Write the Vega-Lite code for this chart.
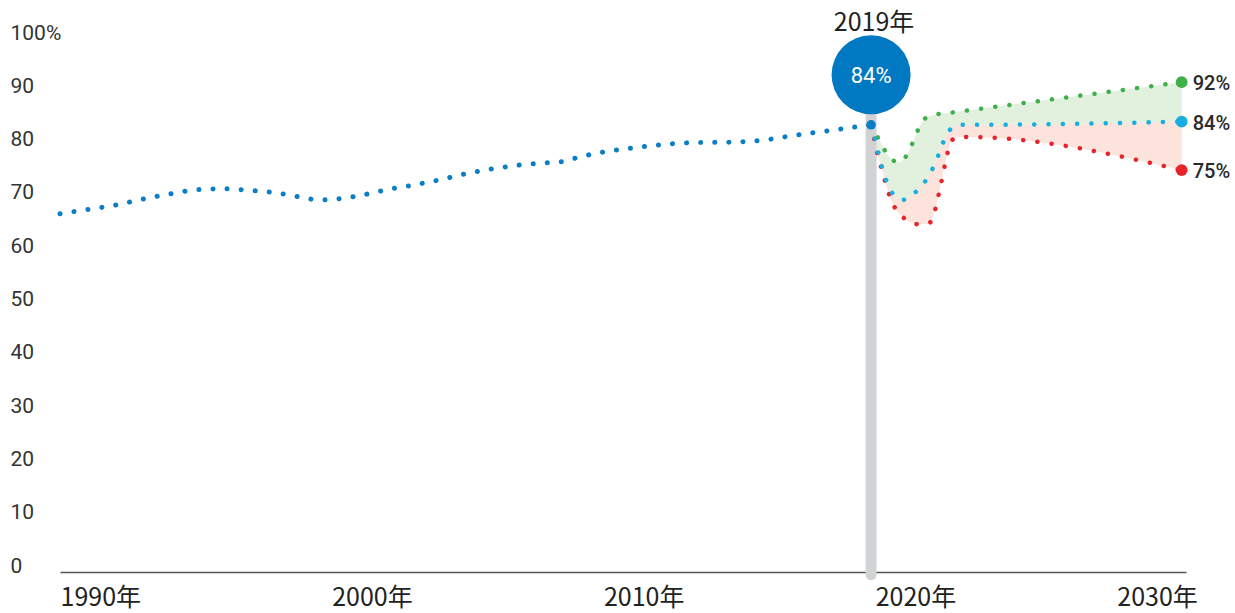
{
  "$schema": "https://vega.github.io/schema/vega-lite/v6.json",
  "width": 1126,
  "height": 533,
  "autosize": {"type": "none"},
  "padding": {"left": 60, "top": 39, "right": 49, "bottom": 41},
  "background": "white",
  "config": {"view": {"stroke": null}, "axis": {"grid": false}},
  "datasets": {
    "history": [
      {"year": 1990, "value": 67.2}, {"year": 1991, "value": 68.0}, {"year": 1992, "value": 68.8},
      {"year": 1993, "value": 69.9}, {"year": 1994, "value": 70.9}, {"year": 1995, "value": 71.7},
      {"year": 1996, "value": 71.9}, {"year": 1997, "value": 71.6}, {"year": 1998, "value": 71.1},
      {"year": 1999, "value": 70.2}, {"year": 1999.5, "value": 69.8}, {"year": 2000, "value": 69.9},
      {"year": 2001, "value": 70.6}, {"year": 2002, "value": 71.7}, {"year": 2003, "value": 72.6},
      {"year": 2004, "value": 73.6}, {"year": 2005, "value": 74.8}, {"year": 2006, "value": 75.7},
      {"year": 2007, "value": 76.4}, {"year": 2008, "value": 76.8}, {"year": 2008.6, "value": 77.1},
      {"year": 2009, "value": 77.7}, {"year": 2010, "value": 78.8}, {"year": 2011, "value": 79.5},
      {"year": 2012, "value": 80.1}, {"year": 2013, "value": 80.5}, {"year": 2014, "value": 80.6},
      {"year": 2015, "value": 80.7}, {"year": 2016, "value": 81.1}, {"year": 2017, "value": 81.9},
      {"year": 2018, "value": 82.6}, {"year": 2019, "value": 83.3}, {"year": 2019.85, "value": 83.9}
    ],
    "forecast": [
      {"year": 2019.85, "green": 83.9, "cyan": 83.9, "red": 83.9},
      {"year": 2020.1, "green": 81.5, "cyan": 79.0, "red": 78.2},
      {"year": 2020.25, "green": 80.1, "cyan": 76.0, "red": 75.4},
      {"year": 2020.4, "green": 78.7, "cyan": 73.6, "red": 72.7},
      {"year": 2020.55, "green": 77.7, "cyan": 71.7, "red": 70.3},
      {"year": 2020.7, "green": 77.1, "cyan": 70.7, "red": 68.6},
      {"year": 2020.85, "green": 76.9, "cyan": 70.1, "red": 67.4},
      {"year": 2021.0, "green": 77.2, "cyan": 69.8, "red": 66.7},
      {"year": 2021.15, "green": 78.1, "cyan": 70.0, "red": 66.0},
      {"year": 2021.3, "green": 79.6, "cyan": 70.5, "red": 65.6},
      {"year": 2021.45, "green": 81.4, "cyan": 71.1, "red": 65.4},
      {"year": 2021.6, "green": 83.2, "cyan": 71.8, "red": 65.2},
      {"year": 2021.8, "green": 84.9, "cyan": 73.0, "red": 65.3},
      {"year": 2022.0, "green": 85.5, "cyan": 74.6, "red": 65.5},
      {"year": 2022.2, "green": 85.8, "cyan": 76.6, "red": 67.8},
      {"year": 2022.4, "green": 86.0, "cyan": 79.2, "red": 72.3},
      {"year": 2022.6, "green": 86.1, "cyan": 81.8, "red": 77.1},
      {"year": 2022.8, "green": 86.2, "cyan": 83.2, "red": 80.9},
      {"year": 2023.1, "green": 86.4, "cyan": 83.9, "red": 81.6},
      {"year": 2023.4, "green": 86.6, "cyan": 83.9, "red": 81.6},
      {"year": 2031.28, "green": 91.9, "cyan": 84.5, "red": 75.4}
    ],
    "ends": [
      {"year": 2031.28, "value": 91.9, "label": "92%", "series": "green"},
      {"year": 2031.28, "value": 84.5, "label": "84%", "series": "cyan"},
      {"year": 2031.28, "value": 75.4, "label": "75%", "series": "red"}
    ],
    "marker": [
      {"year": 2019.85, "value": 83.9, "text": "84%", "yearLabel": "2019年"}
    ]
  },
  "encoding": {
    "x": {
      "field": "year",
      "type": "quantitative",
      "title": null,
      "scale": {"domain": [1990, 2031.44], "nice": false, "zero": false},
      "axis": {
        "values": [1990, 2000, 2010, 2020, 2030],
        "labelExpr": "datum.value + '年'",
        "labelAlign": "left",
        "labelFlush": false,
        "labelOverlap": false,
        "labelOffset": {"condition": {"test": "datum.value == 2030", "value": -30}, "value": 0},
        "labelBaseline": "top",
        "labelPadding": 13,
        "labelFont": "Noto Sans CJK JP",
        "labelFontSize": 25,
        "labelColor": "#222222",
        "ticks": false,
        "domainColor": "#555555",
        "domainWidth": 1.5
      }
    }
  },
  "layer": [
    {
      "data": {"name": "forecast"},
      "mark": {"type": "area", "interpolate": "monotone", "color": "#E2F0DE"},
      "encoding": {
        "y": {"field": "green", "type": "quantitative", "title": null, "scale": {"domain": [0, 100], "nice": false},
          "axis": {
            "values": [0, 10, 20, 30, 40, 50, 60, 70, 80, 90, 100],
            "labelExpr": "datum.value == 100 ? '100%' : datum.label",
            "labelAlign": "left",
            "labelBaseline": "alphabetic",
            "labelPadding": 50,
            "ticks": false,
            "domain": false,
            "labelFont": "Roboto",
            "labelFontSize": 21,
            "labelColor": "#333333"
          }},
        "y2": {"field": "cyan"}
      }
    },
    {
      "data": {"name": "forecast"},
      "mark": {"type": "area", "interpolate": "monotone", "color": "#FCE3DC"},
      "encoding": {
        "y": {"field": "cyan", "type": "quantitative", "title": null},
        "y2": {"field": "red"}
      }
    },
    {
      "data": {"name": "marker"},
      "mark": {"type": "rule", "color": "#D1D2D4", "strokeWidth": 11, "strokeCap": "round"},
      "encoding": {
        "y": {"datum": -0.5, "type": "quantitative", "title": null},
        "y2": {"datum": 88}
      }
    },
    {
      "data": {"name": "history"},
      "mark": {"type": "line", "interpolate": "monotone", "color": "#0B7DC6", "strokeWidth": 5, "strokeCap": "round", "strokeDash": [0.1, 14]},
      "encoding": {"y": {"field": "value", "type": "quantitative", "title": null}}
    },
    {
      "data": {"name": "forecast"},
      "mark": {"type": "line", "interpolate": "monotone", "color": "#3EB04A", "strokeWidth": 4.5, "strokeCap": "round", "strokeDash": [0.1, 14.2]},
      "encoding": {"y": {"field": "green", "type": "quantitative", "title": null}}
    },
    {
      "data": {"name": "forecast"},
      "mark": {"type": "line", "interpolate": "monotone", "color": "#E8232B", "strokeWidth": 4.5, "strokeCap": "round", "strokeDash": [0.1, 14.2]},
      "encoding": {"y": {"field": "red", "type": "quantitative", "title": null}}
    },
    {
      "data": {"name": "forecast"},
      "mark": {"type": "line", "interpolate": "monotone", "color": "#17AEE3", "strokeWidth": 4.5, "strokeCap": "round", "strokeDash": [0.1, 14.2]},
      "encoding": {"y": {"field": "cyan", "type": "quantitative", "title": null}}
    },
    {
      "data": {"name": "ends"},
      "mark": {"type": "point", "filled": true, "opacity": 1, "size": 140},
      "encoding": {
        "y": {"field": "value", "type": "quantitative", "title": null},
        "color": {"field": "series", "type": "nominal", "legend": null,
          "scale": {"domain": ["green", "cyan", "red"], "range": ["#3EB04A", "#17AEE3", "#E8232B"]}}
      }
    },
    {
      "data": {"name": "ends"},
      "mark": {"type": "text", "align": "left", "baseline": "middle", "dx": 11, "dy": 2,
        "font": "Roboto", "fontWeight": 500, "fontSize": 20, "color": "#2a2a2a"},
      "encoding": {
        "y": {"field": "value", "type": "quantitative", "title": null},
        "text": {"field": "label"}
      }
    },
    {
      "data": {"name": "marker"},
      "mark": {"type": "point", "filled": true, "opacity": 1, "size": 90, "color": "#0B7DC6"},
      "encoding": {"y": {"field": "value", "type": "quantitative", "title": null}}
    },
    {
      "data": {"name": "marker"},
      "mark": {"type": "point", "filled": true, "opacity": 1, "size": 6250, "color": "#0079C2", "yOffset": -50},
      "encoding": {"y": {"field": "value", "type": "quantitative", "title": null}}
    },
    {
      "data": {"name": "marker"},
      "mark": {"type": "text", "align": "center", "baseline": "middle", "yOffset": -49,
        "font": "Roboto", "fontSize": 22, "color": "white"},
      "encoding": {
        "y": {"field": "value", "type": "quantitative", "title": null},
        "text": {"field": "text"}
      }
    },
    {
      "data": {"name": "marker"},
      "mark": {"type": "text", "align": "center", "baseline": "middle", "yOffset": -102, "dx": 3,
        "font": "Noto Sans CJK JP", "fontSize": 25, "color": "#222222"},
      "encoding": {
        "y": {"field": "value", "type": "quantitative", "title": null},
        "text": {"field": "yearLabel"}
      }
    }
  ]
}
